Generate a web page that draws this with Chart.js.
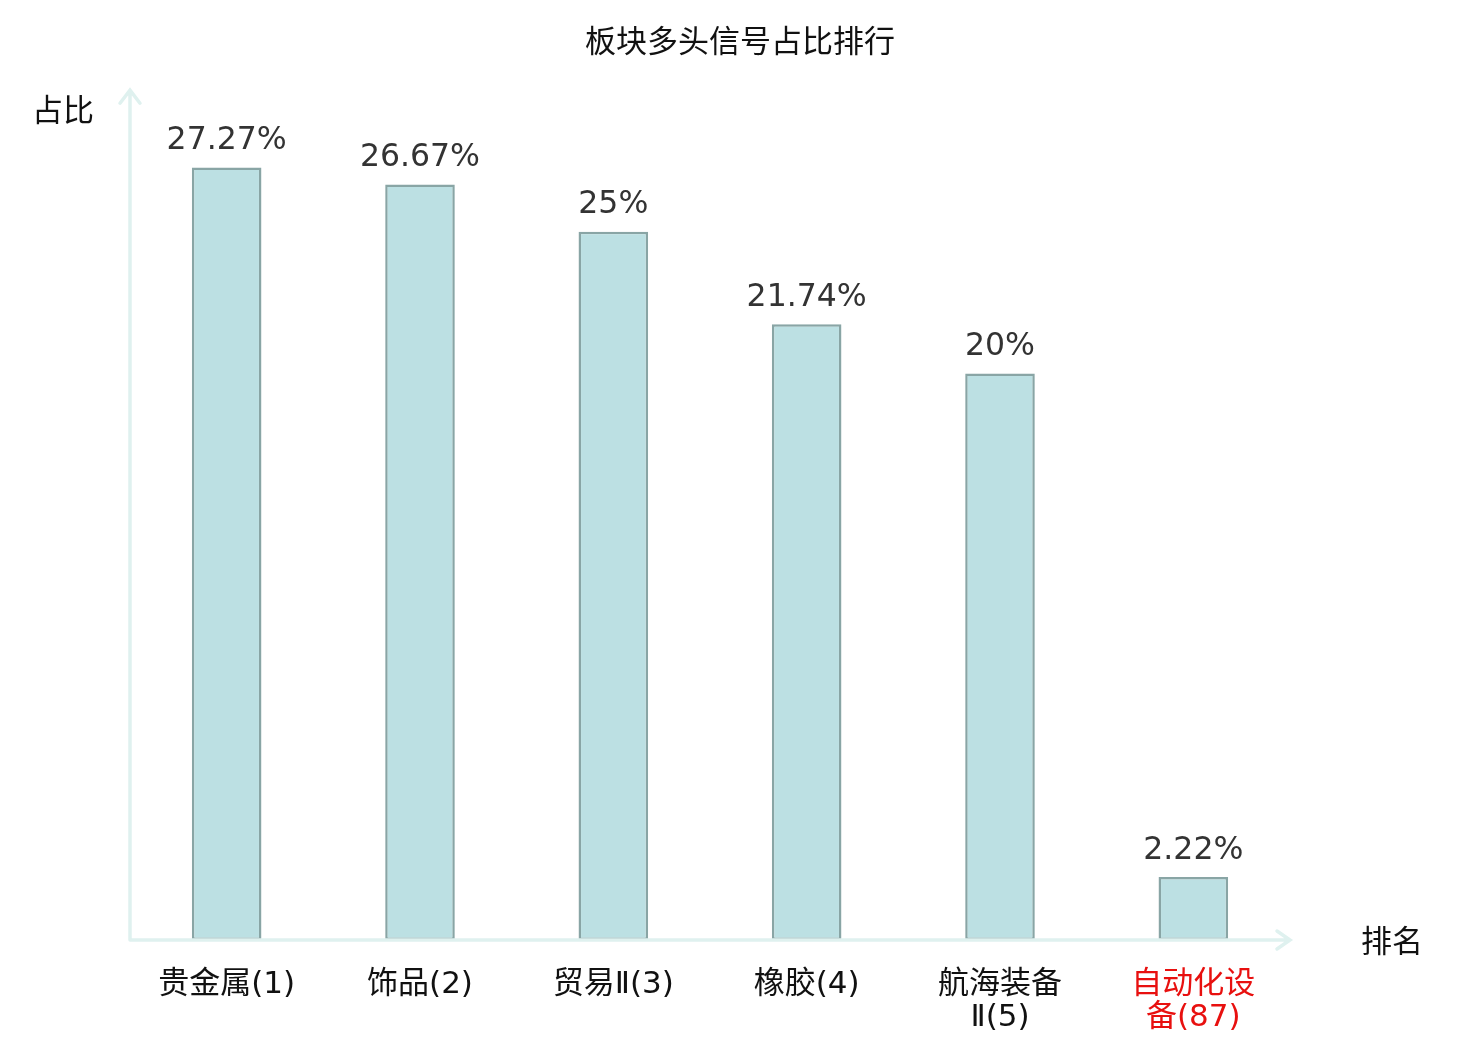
<!DOCTYPE html>
<html lang="zh">

<head>
    <meta charset="UTF-8" />
    <title>板块多头信号占比排行</title>
    <script src="https://cdn.jsdelivr.net/npm/chart.js"></script>
    <style>
        body { margin: 0; background: #fff; }
        #grafico { display: block; }
    </style>
</head>

<body>
    <canvas id="grafico" width="1480" height="1040"></canvas>

<script>
    // dados
    const categorias = [['贵金属(1)'], ['饰品(2)'], ['贸易Ⅱ(3)'], ['橡胶(4)'], ['航海装备', 'Ⅱ(5)'], ['自动化设', '备(87)']];
    const valores = [27.27, 26.67, 25, 21.74, 20, 2.22];
    const rotulos = ['27.27%', '26.67%', '25%', '21.74%', '20%', '2.22%'];
    const destaque = 5; // índice em vermelho

    const fonte = '"DejaVu Sans", "Noto Sans CJK SC", sans-serif';
    const corEixo = '#dff1ef';

    // eixos com setas, rótulos dos valores e nomes dos eixos
    const eixosPlugin = {
        id: 'eixos',
        afterDatasetsDraw(chart) {
            const ctx = chart.ctx;
            const a = chart.chartArea;
            ctx.save();
            ctx.strokeStyle = corEixo;
            ctx.lineWidth = 3.5;
            ctx.lineCap = 'round';
            ctx.beginPath();
            ctx.moveTo(a.left, a.bottom);
            ctx.lineTo(a.left, a.top);
            ctx.moveTo(a.left - 10, a.top + 13);
            ctx.lineTo(a.left, a.top);
            ctx.lineTo(a.left + 10, a.top + 13);
            ctx.moveTo(a.left, a.bottom);
            ctx.lineTo(a.right, a.bottom);
            ctx.moveTo(a.right - 13, a.bottom - 9);
            ctx.lineTo(a.right, a.bottom);
            ctx.lineTo(a.right - 13, a.bottom + 9);
            ctx.stroke();

            ctx.font = '31px ' + fonte;
            ctx.fillStyle = '#111';
            ctx.textAlign = 'center';
            ctx.textBaseline = 'middle';
            ctx.fillText('占比', a.left - 67, a.top + 23);
            ctx.fillText('排名', a.right + 102, a.bottom + 4);

            ctx.font = '31.5px ' + fonte;
            ctx.fillStyle = '#333';
            ctx.textBaseline = 'bottom';
            const meta = chart.getDatasetMeta(0);
            meta.data.forEach(function (barra, i) {
                ctx.fillText(rotulos[i], barra.x, barra.y - 11);
            });
            ctx.restore();
        }
    };

    const data = {
        labels: categorias,
        datasets: [{
            label: '占比',
            data: valores,
            backgroundColor: '#bce0e3',
            borderColor: '#89a5a5',
            borderWidth: 2.5,
            borderSkipped: false,
            categoryPercentage: 1,
            barPercentage: 0.36
        }]
    };

    const config = {
        type: 'bar',
        data: data,
        options: {
            responsive: false,
            animation: false,
            devicePixelRatio: 1,
            layout: {
                padding: 0
            },
            scales: {
                x: {
                    grid: { display: false },
                    border: { display: false },
                    ticks: {
                        autoSkip: false,
                        maxRotation: 0,
                        padding: 21,
                        font: { family: fonte, size: 31, lineHeight: 1.05 },
                        color: function (c) {
                            return c.index === destaque ? '#e8100f' : '#111';
                        }
                    },
                    afterFit: function (scale) { scale.height = 100; }
                },
                y: {
                    min: 0,
                    max: 30,
                    grid: { display: false },
                    border: { display: false },
                    ticks: { display: false },
                    afterFit: function (scale) { scale.width = 130; }
                },
                // espaço à direita para o nome do eixo x
                margem: {
                    type: 'linear',
                    position: 'right',
                    grid: { display: false },
                    border: { display: false },
                    ticks: { display: false },
                    afterFit: function (scale) { scale.width = 190; }
                }
            },
            plugins: {
                legend: { display: false },
                tooltip: { enabled: false },
                title: {
                    display: true,
                    text: '板块多头信号占比排行',
                    color: '#111',
                    font: { family: fonte, size: 31, weight: 'normal', lineHeight: 1.2 },
                    padding: { top: 25, bottom: 28 }
                }
            }
        },
        plugins: [eixosPlugin]
    };

    const myChart = new Chart(document.getElementById('grafico'), config);
</script>

</body>

</html>
